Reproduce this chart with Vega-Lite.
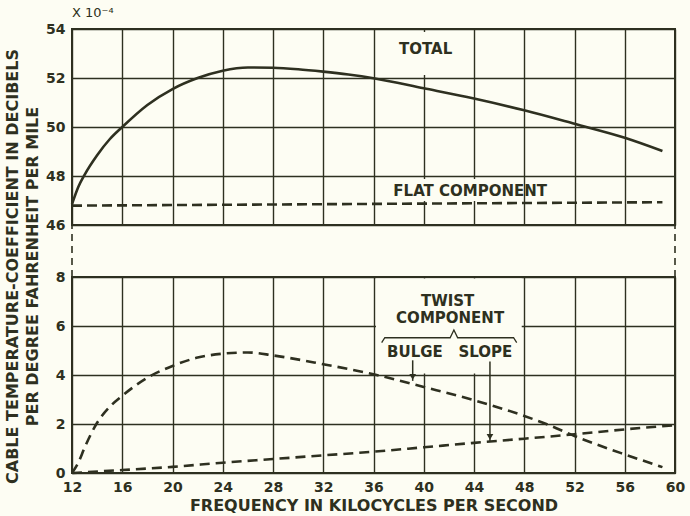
{
  "$schema": "https://vega.github.io/schema/vega-lite/v6.json",
  "background": "#fdfdf3",
  "padding": {"left": 3, "top": 6, "right": 4, "bottom": 2},
  "spacing": 0,
  "bounds": "flush",
  "config": {
    "view": {"stroke": "#2e3020", "strokeWidth": 2},
    "axis": {
      "gridColor": "#2e3020", "gridWidth": 1.4, "gridOpacity": 1,
      "domain": false, "ticks": false, "labelFlush": false,
      "labelFont": "DejaVu Sans", "labelFontSize": 14, "labelFontWeight": "bold", "labelColor": "#2e3020",
      "titleFont": "DejaVu Sans", "titleFontSize": 16, "titleFontWeight": "bold", "titleColor": "#2e3020"
    },
    "text": {"font": "DejaVu Sans", "fontSize": 15, "fontWeight": "bold", "color": "#2e3020"}
  },
  "datasets": {
    "total": [
      {"kc": 12, "v": 46.85}, {"kc": 12.5, "v": 47.55}, {"kc": 13, "v": 48.05}, {"kc": 14, "v": 48.85},
      {"kc": 15, "v": 49.5}, {"kc": 16, "v": 50.0}, {"kc": 18, "v": 50.9}, {"kc": 20, "v": 51.55},
      {"kc": 22, "v": 52.0}, {"kc": 24, "v": 52.3}, {"kc": 26, "v": 52.43}, {"kc": 28, "v": 52.42},
      {"kc": 30, "v": 52.36}, {"kc": 32, "v": 52.26}, {"kc": 34, "v": 52.14}, {"kc": 36, "v": 51.99},
      {"kc": 40, "v": 51.58}, {"kc": 44, "v": 51.16}, {"kc": 48, "v": 50.68}, {"kc": 52, "v": 50.13},
      {"kc": 56, "v": 49.56}, {"kc": 59, "v": 49.02}
    ],
    "flat": [{"kc": 12, "v": 46.79}, {"kc": 59, "v": 46.93}],
    "bulge": [
      {"kc": 12, "v": 0}, {"kc": 12.5, "v": 0.42}, {"kc": 13, "v": 1.03}, {"kc": 14, "v": 2.05},
      {"kc": 15, "v": 2.7}, {"kc": 16, "v": 3.15}, {"kc": 18, "v": 3.89}, {"kc": 20, "v": 4.37},
      {"kc": 22, "v": 4.71}, {"kc": 24, "v": 4.87}, {"kc": 26, "v": 4.92}, {"kc": 28, "v": 4.8},
      {"kc": 32, "v": 4.44}, {"kc": 36, "v": 4.03}, {"kc": 40, "v": 3.51}, {"kc": 44, "v": 2.97},
      {"kc": 48, "v": 2.33}, {"kc": 50, "v": 1.95}, {"kc": 52, "v": 1.51}, {"kc": 54, "v": 1.12},
      {"kc": 56, "v": 0.76}, {"kc": 59, "v": 0.24}
    ],
    "slope": [
      {"kc": 12, "v": 0}, {"kc": 16, "v": 0.12}, {"kc": 20, "v": 0.25}, {"kc": 24, "v": 0.42},
      {"kc": 28, "v": 0.57}, {"kc": 32, "v": 0.72}, {"kc": 36, "v": 0.87}, {"kc": 40, "v": 1.05},
      {"kc": 44, "v": 1.23}, {"kc": 48, "v": 1.4}, {"kc": 52, "v": 1.58}, {"kc": 56, "v": 1.78},
      {"kc": 60, "v": 1.95}
    ],
    "boxesTop": [
      {"x1": 36.3, "x2": 43.7, "y1": 52.12, "y2": 53.88},
      {"x1": 36.3, "x2": 47.7, "y1": 46.98, "y2": 47.88}
    ],
    "boxesBottom": [{"x1": 36.2, "x2": 47.8, "y1": 4.06, "y2": 7.94}],
    "labelsTop": [
      {"label": "TOTAL", "kc": 40.15, "v": 53.17},
      {"label": "FLAT COMPONENT", "kc": 43.7, "v": 47.39}
    ],
    "labelsBottom": [
      {"label": "TWIST", "kc": 41.9, "v": 7.02},
      {"label": "COMPONENT", "kc": 42.1, "v": 6.31},
      {"label": "BULGE", "kc": 39.3, "v": 4.94},
      {"label": "SLOPE", "kc": 44.9, "v": 4.94}
    ],
    "brace": [
      {"o": 1, "kc": 36.65, "v": 5.32}, {"o": 2, "kc": 36.9, "v": 5.52}, {"o": 3, "kc": 42.1, "v": 5.52},
      {"o": 4, "kc": 42.4, "v": 5.84}, {"o": 5, "kc": 42.7, "v": 5.52}, {"o": 6, "kc": 47.15, "v": 5.52},
      {"o": 7, "kc": 47.4, "v": 5.32}
    ],
    "arrows": [
      {"kc": 39.12, "start": 4.6, "tip": 3.76},
      {"kc": 45.27, "start": 4.55, "tip": 1.31}
    ],
    "breaks": [{"kc": 12}, {"kc": 60}]
  },
  "vconcat": [
    {
      "width": 603, "height": 196,
      "title": {"text": "X 10⁻⁴", "anchor": "start", "frame": "group", "fontSize": 13, "font": "DejaVu Sans", "fontWeight": "normal", "color": "#2e3020", "offset": 2},
      "layer": [
        {
          "data": {"name": "boxesTop"},
          "mark": {"type": "rect", "fill": "#fdfdf3"},
          "encoding": {
            "x": {"field": "x1", "type": "quantitative", "scale": {"domain": [12, 60], "nice": false},
                  "axis": {"title": null, "labels": false, "values": [12,16,20,24,28,32,36,40,44,48,52,56,60]}},
            "x2": {"field": "x2"},
            "y": {"field": "y1", "type": "quantitative", "scale": {"domain": [46, 54], "nice": false, "zero": false},
                  "axis": {"title": null, "values": [46,48,50,52,54], "labelPadding": 7}},
            "y2": {"field": "y2"}
          }
        },
        {
          "data": {"name": "total"},
          "mark": {"type": "line", "interpolate": "monotone", "color": "#2e3020", "strokeWidth": 2.6},
          "encoding": {"x": {"field": "kc", "type": "quantitative"}, "y": {"field": "v", "type": "quantitative"}}
        },
        {
          "data": {"name": "flat"},
          "mark": {"type": "line", "color": "#2e3020", "strokeWidth": 2.6, "strokeDash": [10, 5]},
          "encoding": {"x": {"field": "kc", "type": "quantitative"}, "y": {"field": "v", "type": "quantitative"}}
        },
        {
          "data": {"name": "labelsTop"},
          "mark": {"type": "text"},
          "encoding": {"x": {"field": "kc", "type": "quantitative"}, "y": {"field": "v", "type": "quantitative"}, "text": {"field": "label"}}
        }
      ]
    },
    {
      "width": 603, "height": 52,
      "view": {"stroke": null},
      "data": {"name": "breaks"},
      "mark": {"type": "rule", "strokeDash": [7, 5], "strokeWidth": 1.6, "color": "#2e3020"},
      "encoding": {
        "x": {"field": "kc", "type": "quantitative", "scale": {"domain": [12, 60], "nice": false}, "axis": null},
        "y": {"datum": 0, "type": "quantitative", "scale": {"domain": [0, 1]},
              "axis": {"title": ["CABLE TEMPERATURE-COEFFICIENT IN DECIBELS", "PER DEGREE FAHRENHEIT PER MILE"],
                       "labels": false, "grid": false, "titlePadding": 32, "titleY": 41, "titleLineHeight": 20}},
        "y2": {"datum": 1}
      }
    },
    {
      "width": 603, "height": 196,
      "layer": [
        {
          "data": {"name": "boxesBottom"},
          "mark": {"type": "rect", "fill": "#fdfdf3"},
          "encoding": {
            "x": {"field": "x1", "type": "quantitative", "scale": {"domain": [12, 60], "nice": false},
                  "axis": {"title": "FREQUENCY IN KILOCYCLES PER SECOND", "values": [12,16,20,24,28,32,36,40,44,48,52,56,60], "labelPadding": 7, "titlePadding": 3}},
            "x2": {"field": "x2"},
            "y": {"field": "y1", "type": "quantitative", "scale": {"domain": [0, 8], "nice": false},
                  "axis": {"title": null, "values": [0,2,4,6,8], "labelPadding": 7}},
            "y2": {"field": "y2"}
          }
        },
        {
          "data": {"name": "bulge"},
          "mark": {"type": "line", "interpolate": "monotone", "color": "#2e3020", "strokeWidth": 2.6, "strokeDash": [10, 6]},
          "encoding": {"x": {"field": "kc", "type": "quantitative"}, "y": {"field": "v", "type": "quantitative"}}
        },
        {
          "data": {"name": "slope"},
          "mark": {"type": "line", "interpolate": "monotone", "color": "#2e3020", "strokeWidth": 2.6, "strokeDash": [10, 6]},
          "encoding": {"x": {"field": "kc", "type": "quantitative"}, "y": {"field": "v", "type": "quantitative"}}
        },
        {
          "data": {"name": "brace"},
          "mark": {"type": "line", "color": "#2e3020", "strokeWidth": 1.3},
          "encoding": {"x": {"field": "kc", "type": "quantitative"}, "y": {"field": "v", "type": "quantitative"}, "order": {"field": "o"}}
        },
        {
          "data": {"name": "arrows"},
          "mark": {"type": "rule", "color": "#2e3020", "strokeWidth": 1.5},
          "encoding": {"x": {"field": "kc", "type": "quantitative"}, "y": {"field": "start", "type": "quantitative"}, "y2": {"field": "tip"}}
        },
        {
          "data": {"name": "arrows"},
          "mark": {"type": "point", "shape": "triangle-down", "filled": true, "color": "#2e3020", "size": 45, "yOffset": -4, "opacity": 1},
          "encoding": {"x": {"field": "kc", "type": "quantitative"}, "y": {"field": "tip", "type": "quantitative"}}
        },
        {
          "data": {"name": "labelsBottom"},
          "mark": {"type": "text"},
          "encoding": {"x": {"field": "kc", "type": "quantitative"}, "y": {"field": "v", "type": "quantitative"}, "text": {"field": "label"}}
        }
      ]
    }
  ]
}
